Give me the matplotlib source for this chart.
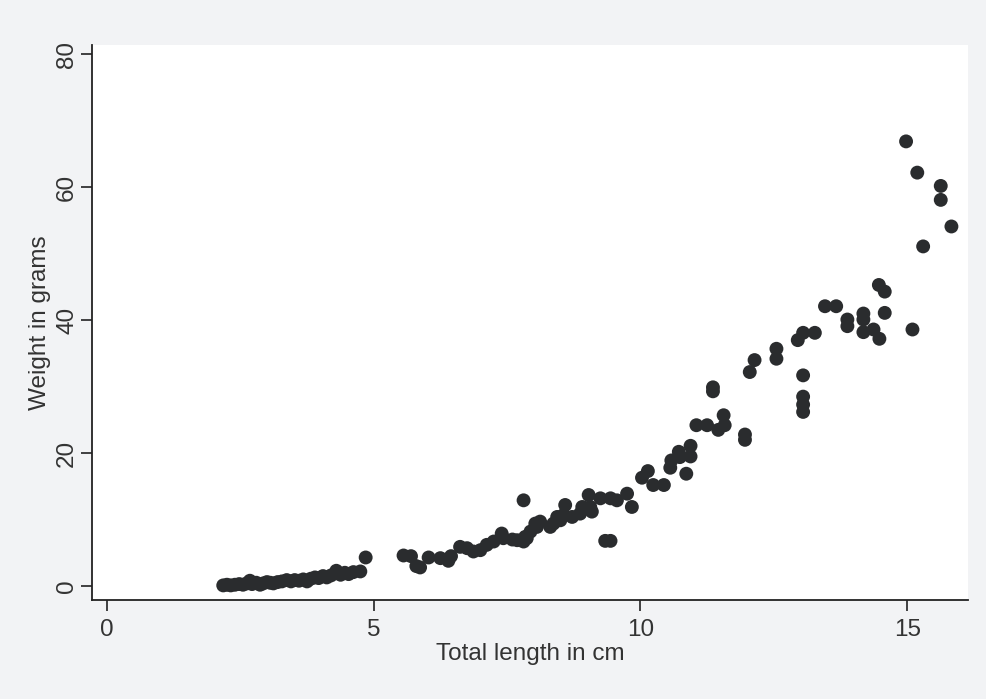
import matplotlib
matplotlib.use('Agg')
import matplotlib.pyplot as plt

# total length (cm) and weight (g)
length_cm = [
    2.18, 2.25, 2.32, 2.40, 2.48, 2.55, 2.62, 2.68, 2.72, 2.80, 2.87, 2.93,
    3.00, 3.06, 3.12, 3.20, 3.28, 3.37, 3.45, 3.52, 3.60, 3.68, 3.75, 3.82,
    3.90, 3.97, 4.05, 4.12, 4.20, 4.30, 4.38, 4.46, 4.53, 4.62, 4.75, 4.85,
    5.56, 5.70, 5.87, 5.80, 6.03, 6.25, 6.40, 6.45, 6.62, 6.75, 6.87, 7.00,
    7.12, 7.25, 7.40, 7.43, 7.60, 7.69, 7.81, 7.84, 7.87, 7.94, 7.81, 8.03,
    8.12, 8.06, 8.31, 8.37, 8.50, 8.56, 8.44, 8.59, 8.72, 8.87, 8.91, 9.06,
    9.09, 9.03, 9.25, 9.44, 9.56, 9.75, 9.84, 9.34, 9.44,
    10.03, 10.14, 10.24, 10.44, 10.56, 10.58, 10.72, 10.74, 10.94, 10.94,
    10.86, 11.05, 11.25, 11.46, 11.58, 11.56, 11.36, 11.36, 11.96, 11.96,
    12.05, 12.14, 12.55, 12.55, 12.95, 13.05, 13.27, 13.05, 13.05, 13.05,
    13.05, 13.46, 13.67, 13.88, 13.88, 14.18, 14.18, 14.18, 14.37, 14.48,
    14.58, 14.47, 14.58, 15.10, 14.98, 15.19, 15.63, 15.63, 15.83, 15.30,
]
weight_g = [
    0.1, 0.2, 0.1, 0.2, 0.3, 0.2, 0.4, 0.8, 0.3, 0.5, 0.2, 0.4,
    0.6, 0.5, 0.4, 0.6, 0.7, 0.9, 0.7, 0.9, 0.8, 1.0, 0.7, 1.1,
    1.3, 1.2, 1.5, 1.3, 1.6, 2.3, 1.7, 2.0, 1.8, 2.1, 2.2, 4.3,
    4.6, 4.5, 2.8, 3.0, 4.3, 4.2, 3.8, 4.5, 5.9, 5.7, 5.2, 5.4,
    6.2, 6.7, 7.9, 7.2, 7.0, 6.9, 6.7, 7.4, 7.2, 8.2, 12.9, 9.4,
    9.7, 8.9, 8.9, 9.4, 9.9, 10.7, 10.4, 12.2, 10.4, 10.9, 11.9, 11.9,
    11.2, 13.7, 13.2, 13.2, 12.9, 13.9, 11.9, 6.8, 6.8,
    16.3, 17.3, 15.2, 15.2, 17.8, 18.9, 20.2, 19.4, 21.1, 19.5,
    16.9, 24.2, 24.2, 23.5, 24.2, 25.7, 29.9, 29.3, 22.8, 22.0,
    32.2, 34.0, 35.7, 34.2, 37.0, 38.1, 38.1, 31.7, 28.5, 27.3,
    26.2, 42.1, 42.1, 40.1, 39.1, 41.0, 40.1, 38.2, 38.6, 37.2,
    41.1, 45.3, 44.3, 38.6, 66.9, 62.2, 60.2, 58.1, 54.1, 51.1,
]

x_ticks = [0, 5, 10, 15]
y_ticks = [0, 20, 40, 60, 80]

plt.rcParams['font.family'] = ['Liberation Sans', 'DejaVu Sans']

fig = plt.figure(figsize=(9.86, 6.99), dpi=100, facecolor='#f2f3f5')
ax = fig.add_axes([0.0933, 0.1416, 0.8884, 0.794])
ax.set_facecolor('white')

ax.scatter(length_cm, weight_g, s=100, color='#2a2c2e', edgecolors='none', zorder=3)

ax.set_xlim(-0.28, 16.14)
ax.set_ylim(-2.1, 81.4)
ax.set_xticks(x_ticks)
ax.set_yticks(y_ticks)
ax.set_yticklabels([str(v) for v in y_ticks], rotation=90, va='center')

for side in ['top', 'right']:
    ax.spines[side].set_visible(False)
for side in ['left', 'bottom']:
    ax.spines[side].set_linewidth(1.3)
    ax.spines[side].set_color('#222222')

ax.tick_params(direction='out', length=8, width=1.2, colors='#222222',
               labelsize=17.5, labelcolor='#333333')
ax.tick_params(axis='x', pad=6)
ax.tick_params(axis='y', pad=2)
ax.set_xlabel('Total length in cm', fontsize=17.5, color='#333333', labelpad=1)
ax.set_ylabel('Weight in grams', fontsize=17.5, color='#333333', labelpad=4)

fig.savefig('out.png', dpi=100, facecolor=fig.get_facecolor())
